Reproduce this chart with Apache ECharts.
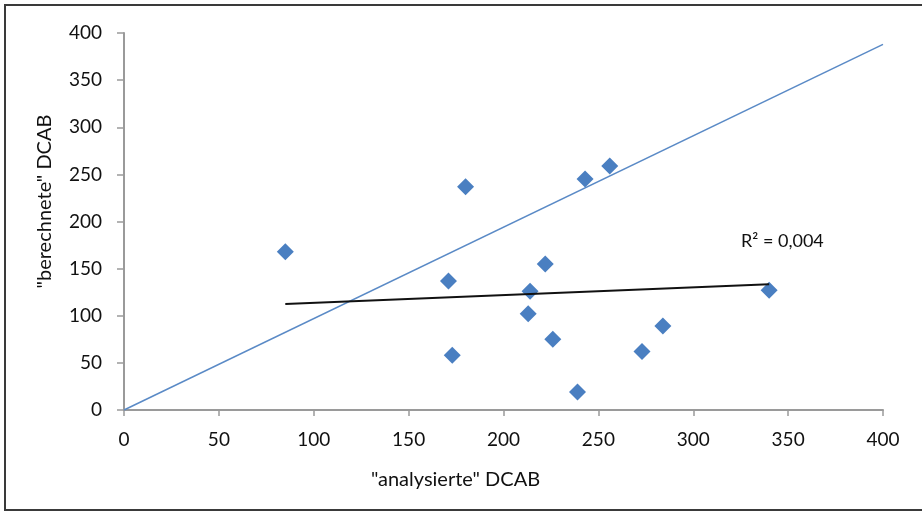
<!DOCTYPE html>
<html>
<head>
<meta charset="utf-8">
<script src="https://cdn.jsdelivr.net/npm/echarts@6/dist/echarts.min.js"></script>
<style>
  html, body { margin: 0; padding: 0; background: #fff; }
  #chart { width: 922px; height: 512px; }
</style>
</head>
<body>
<div id="chart"></div>
<script>
// measured points: "analysierte" DCAB (x) vs "berechnete" DCAB (y)
const analysiert = [85, 180, 171, 173, 214, 213, 222, 226, 239, 243, 256, 273, 284, 340];
const berechnet  = [168, 237, 137, 58, 126, 102, 155, 75, 19, 245, 259, 62, 89, 127];

// reference line (1:1) and linear trend, endpoints
const refLineX = [0, 400];
const refLineY = [0, 388];
const trendX = [85, 340];
const trendY = [112.5, 133.5];
const r2Text = 'R² = 0,004';

const axisTicks = [0, 50, 100, 150, 200, 250, 300, 350, 400];

const fontFam = 'Lato, "Open Sans", sans-serif';

const chart = echarts.init(document.getElementById('chart'), null, { renderer: 'canvas' });

const points = analysiert.map((x, i) => [x, berechnet[i]]);

const option = {
  animation: false,
  backgroundColor: '#fff',
  grid: { left: 124, right: 39, top: 33, bottom: 102 },
  xAxis: {
    type: 'value',
    min: axisTicks[0],
    max: axisTicks[axisTicks.length - 1],
    interval: 50,
    name: '"analysierte" DCAB',
    nameLocation: 'middle',
    nameGap: 60,
    nameTextStyle: { fontFamily: fontFam, fontSize: 20, color: '#111', padding: [0, 96, 0, 0] },
    splitLine: { show: false },
    axisLine: { lineStyle: { color: '#9a9a9a', width: 2 } },
    axisTick: { show: true, length: 6, inside: false, lineStyle: { color: '#9a9a9a', width: 1.5 } },
    axisLabel: { margin: 20, fontFamily: fontFam, fontSize: 19, color: '#111' }
  },
  yAxis: {
    type: 'value',
    min: axisTicks[0],
    max: axisTicks[axisTicks.length - 1],
    interval: 50,
    name: '"berechnete" DCAB',
    nameLocation: 'middle',
    nameGap: 69,
    nameTextStyle: { fontFamily: fontFam, fontSize: 20, color: '#111', padding: [0, 0, 0, 40] },
    splitLine: { show: false },
    axisLine: { show: true, lineStyle: { color: '#9a9a9a', width: 2 } },
    axisTick: { show: true, length: 7, inside: false, lineStyle: { color: '#9a9a9a', width: 1.5 } },
    axisLabel: { margin: 22, fontFamily: fontFam, fontSize: 19, color: '#111' }
  },
  graphic: [
    {
      type: 'rect',
      shape: { x: 5, y: 5, width: 940, height: 505 },
      style: { fill: null, stroke: '#3a3a3a', lineWidth: 2 },
      silent: true
    },
    {
      type: 'text',
      left: 741,
      top: 232,
      style: { text: r2Text, fontFamily: fontFam, fontSize: 18, fill: '#111' }
    }
  ],
  series: [
    {
      name: 'ref',
      type: 'line',
      data: refLineX.map((x, i) => [x, refLineY[i]]),
      symbol: 'none',
      lineStyle: { color: '#5a8ac6', width: 1.5 },
      z: 1
    },
    {
      name: 'trend',
      type: 'line',
      data: trendX.map((x, i) => [x, trendY[i]]),
      symbol: 'none',
      lineStyle: { color: '#111', width: 2 },
      z: 3
    },
    {
      name: 'DCAB',
      type: 'scatter',
      data: points,
      symbol: 'diamond',
      symbolSize: [17, 17],
      itemStyle: { color: '#4a7fc1', opacity: 1 },
      z: 2
    }
  ]
};

chart.setOption(option);
</script>
</body>
</html>
